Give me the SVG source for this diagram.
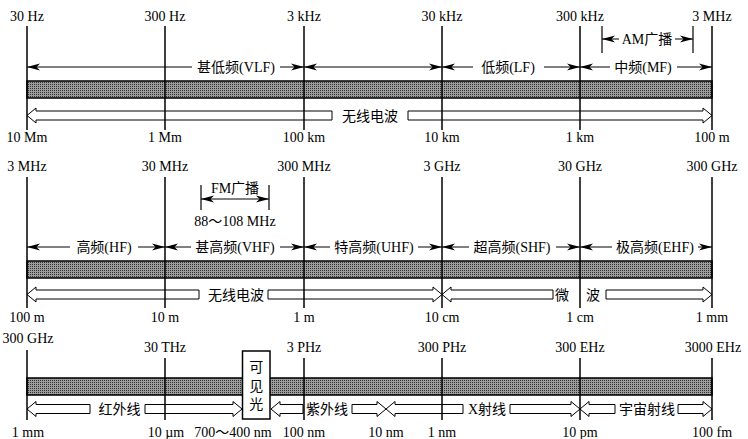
<svg xmlns="http://www.w3.org/2000/svg" width="748" height="439" viewBox="0 0 748 439">
<defs>
<pattern id="dots" width="2" height="2" patternUnits="userSpaceOnUse">
<rect width="2" height="2" fill="#9c9c9c"/>
<rect width="1" height="1" fill="#333"/>
</pattern>
<marker id="ah" viewBox="0 0 13 9" refX="13" refY="4.5" markerWidth="13" markerHeight="9" markerUnits="userSpaceOnUse" orient="auto-start-reverse">
<path d="M0,1 L13,4.5 L0,8 L3.5,4.5 Z" fill="#000"/>
</marker>
</defs>
<style>
text{font-family:"Liberation Serif","Noto Sans CJK SC",serif;font-size:14px;fill:#000;text-anchor:middle}
.band{fill:url(#dots);stroke:#000;stroke-width:1.5}
.tick{stroke:#000;stroke-width:1.5;fill:none}
.dim{stroke:#000;stroke-width:1;fill:none;marker-end:url(#ah)}
.dim2{stroke:#000;stroke-width:1;fill:none;marker-start:url(#ah);marker-end:url(#ah)}
.hol{fill:#fff;stroke:#000;stroke-width:1}
</style>

<!-- Row 1 -->
<g id="row1">
<rect class="band" x="27" y="81" width="685" height="17"/>
<g id="row1-hollow">
<path class="hol" d="M27,115.5 L36,108 L36,111 L332,111 L332,120 L36,120 L36,123 Z"/>
<path class="hol" d="M712,115.5 L703,108 L703,111 L408,111 L408,120 L703,120 L703,123 Z"/>
<text x="370" y="120.5">无线电波</text>
</g>
<g id="row1-ticks">
<line class="tick" x1="27" y1="26" x2="27" y2="130"/>
<line class="tick" x1="165" y1="26" x2="165" y2="130"/>
<line class="tick" x1="304" y1="26" x2="304" y2="130"/>
<line class="tick" x1="442" y1="26" x2="442" y2="130"/>
<line class="tick" x1="580" y1="26" x2="580" y2="130"/>
<line class="tick" x1="712" y1="26" x2="712" y2="130"/>
</g>
<g id="row1-top">
<text x="27" y="21">30 Hz</text>
<text x="165" y="21">300 Hz</text>
<text x="304" y="21">3 kHz</text>
<text x="442" y="21">30 kHz</text>
<text x="580" y="21">300 kHz</text>
<text x="712" y="21">3 MHz</text>
</g>
<g id="row1-bottom">
<text x="27" y="142">10 Mm</text>
<text x="165" y="142">1 Mm</text>
<text x="304" y="142">100 km</text>
<text x="442" y="142">10 km</text>
<text x="580" y="142">1 km</text>
<text x="712" y="142">100 m</text>
</g>
<g id="row1-bands">
<text x="236" y="72">甚低频(VLF)</text>
<text x="508" y="72">低频(LF)</text>
<text x="643" y="72">中频(MF)</text>
</g>
<g id="am">
<line class="tick" x1="602" y1="26" x2="602" y2="53" style="stroke-width:1.2"/>
<line class="tick" x1="693" y1="26" x2="693" y2="53" style="stroke-width:1.2"/>
<text x="647" y="44">AM广播</text>
</g>
</g>

<!-- Row 2 -->
<g id="row2">
<rect class="band" x="27" y="261" width="685" height="17"/>
<g id="row2-hollow">
<path class="hol" d="M27,294.5 L36,287 L36,290 L199,290 L199,299 L36,299 L36,302 Z"/>
<path class="hol" d="M442,294.5 L433,287 L433,290 L268,290 L268,299 L433,299 L433,302 Z"/>
<path class="hol" d="M442,294.5 L451,287 L451,290 L553,290 L553,299 L451,299 L451,302 Z"/>
<path class="hol" d="M712,294.5 L703,287 L703,290 L606,290 L606,299 L703,299 L703,302 Z"/>
<text x="236" y="299.5">无线电波</text>
<text x="562" y="299.5">微</text>
<text x="593" y="299.5">波</text>
</g>
<g id="row2-ticks">
<line class="tick" x1="27" y1="177" x2="27" y2="308"/>
<line class="tick" x1="165" y1="177" x2="165" y2="308"/>
<line class="tick" x1="304" y1="177" x2="304" y2="308"/>
<line class="tick" x1="442" y1="177" x2="442" y2="308"/>
<line class="tick" x1="580" y1="177" x2="580" y2="308"/>
<line class="tick" x1="712" y1="177" x2="712" y2="308"/>
</g>
<g id="row2-top">
<text x="27" y="171">3 MHz</text>
<text x="165" y="171">30 MHz</text>
<text x="304" y="171">300 MHz</text>
<text x="442" y="171">3 GHz</text>
<text x="580" y="171">30 GHz</text>
<text x="712" y="171">300 GHz</text>
</g>
<g id="row2-bottom">
<text x="27" y="322">100 m</text>
<text x="165" y="322">10 m</text>
<text x="304" y="322">1 m</text>
<text x="442" y="322">10 cm</text>
<text x="580" y="322">1 cm</text>
<text x="712" y="322">1 mm</text>
</g>
<g id="row2-bands">
<text x="104" y="252">高频(HF)</text>
<text x="235" y="252">甚高频(VHF)</text>
<text x="374" y="252">特高频(UHF)</text>
<text x="512" y="252">超高频(SHF)</text>
<text x="655" y="252">极高频(EHF)</text>
</g>
<g id="fm">
<line class="tick" x1="201" y1="185" x2="201" y2="210" style="stroke-width:1.2"/>
<line class="tick" x1="269" y1="185" x2="269" y2="210" style="stroke-width:1.2"/>
<text x="235" y="193">FM广播</text>
<text x="235" y="226">88～108 MHz</text>
</g>
</g>

<!-- Row 3 -->
<g id="row3">
<rect class="band" x="27" y="378" width="685" height="17"/>
<g id="row3-hollow">
<path class="hol" d="M27,409 L36,401.5 L36,404.5 L90,404.5 L90,413.5 L36,413.5 L36,416.5 Z"/>
<path class="hol" d="M242,409 L233,401.5 L233,404.5 L145,404.5 L145,413.5 L233,413.5 L233,416.5 Z"/>
<path class="hol" d="M271,409 L280,401.5 L280,404.5 L303,404.5 L303,413.5 L280,413.5 L280,416.5 Z"/>
<path class="hol" d="M386,409 L377,401.5 L377,404.5 L352,404.5 L352,413.5 L377,413.5 L377,416.5 Z"/>
<path class="hol" d="M386,409 L395,401.5 L395,404.5 L463,404.5 L463,413.5 L395,413.5 L395,416.5 Z"/>
<path class="hol" d="M580,409 L571,401.5 L571,404.5 L510,404.5 L510,413.5 L571,413.5 L571,416.5 Z"/>
<path class="hol" d="M580,409 L589,401.5 L589,404.5 L615,404.5 L615,413.5 L589,413.5 L589,416.5 Z"/>
<path class="hol" d="M712,409 L703,401.5 L703,404.5 L678,404.5 L678,413.5 L703,413.5 L703,416.5 Z"/>
<text x="119.5" y="414">红外线</text>
<text x="327" y="414">紫外线</text>
<text x="487" y="414">X射线</text>
<text x="647" y="414">宇宙射线</text>
</g>
<g id="row3-ticks">
<line class="tick" x1="27" y1="350" x2="27" y2="420"/>
<line class="tick" x1="165" y1="358" x2="165" y2="420"/>
<line class="tick" x1="304" y1="358" x2="304" y2="420"/>
<line class="tick" x1="442" y1="358" x2="442" y2="420"/>
<line class="tick" x1="580" y1="358" x2="580" y2="420"/>
<line class="tick" x1="712" y1="358" x2="712" y2="420"/>
</g>
<g id="visible">
<rect x="242.5" y="351" width="27.5" height="68" fill="#fff" stroke="#000" stroke-width="1.5"/>
<text x="256.25" y="371.5">可</text>
<text x="256.25" y="391">见</text>
<text x="256.25" y="409">光</text>
</g>
<g id="row3-top">
<text x="28" y="343">300 GHz</text>
<text x="165" y="352">30 THz</text>
<text x="304" y="352">3 PHz</text>
<text x="442" y="352">300 PHz</text>
<text x="580" y="352">300 EHz</text>
<text x="713" y="352">3000 EHz</text>
</g>
<g id="row3-bottom">
<text x="28" y="437">1 mm</text>
<text x="166" y="437">10 µm</text>
<text x="233" y="437">700～400 nm</text>
<text x="304" y="437">100 nm</text>
<text x="386" y="437">10 nm</text>
<text x="442" y="437">1 nm</text>
<text x="580" y="437">10 pm</text>
<text x="712" y="437">100 fm</text>
</g>
</g>

<!-- Connectors (dimension arrows) -->
<g id="connectors">
<line class="dim" x1="192" y1="67" x2="27" y2="67"/>
<line class="dim" x1="280" y1="67" x2="304" y2="67"/>
<line class="dim2" x1="304" y1="67" x2="442" y2="67"/>
<line class="dim" x1="473" y1="67" x2="442" y2="67"/>
<line class="dim" x1="544" y1="67" x2="580" y2="67"/>
<line class="dim" x1="610" y1="67" x2="580" y2="67"/>
<line class="dim" x1="677" y1="67" x2="712" y2="67"/>
<line class="dim" x1="619" y1="39" x2="602" y2="39"/>
<line class="dim" x1="675" y1="39" x2="693" y2="39"/>
<line class="dim" x1="70" y1="247" x2="27" y2="247"/>
<line class="dim" x1="138" y1="247" x2="165" y2="247"/>
<line class="dim" x1="191" y1="247" x2="165" y2="247"/>
<line class="dim" x1="280" y1="247" x2="304" y2="247"/>
<line class="dim" x1="330" y1="247" x2="304" y2="247"/>
<line class="dim" x1="418" y1="247" x2="442" y2="247"/>
<line class="dim" x1="469" y1="247" x2="442" y2="247"/>
<line class="dim" x1="556" y1="247" x2="580" y2="247"/>
<line class="dim" x1="612" y1="247" x2="580" y2="247"/>
<line class="dim" x1="698" y1="247" x2="712" y2="247"/>
<line class="dim2" x1="201" y1="199" x2="269" y2="199"/>
</g>
</svg>
